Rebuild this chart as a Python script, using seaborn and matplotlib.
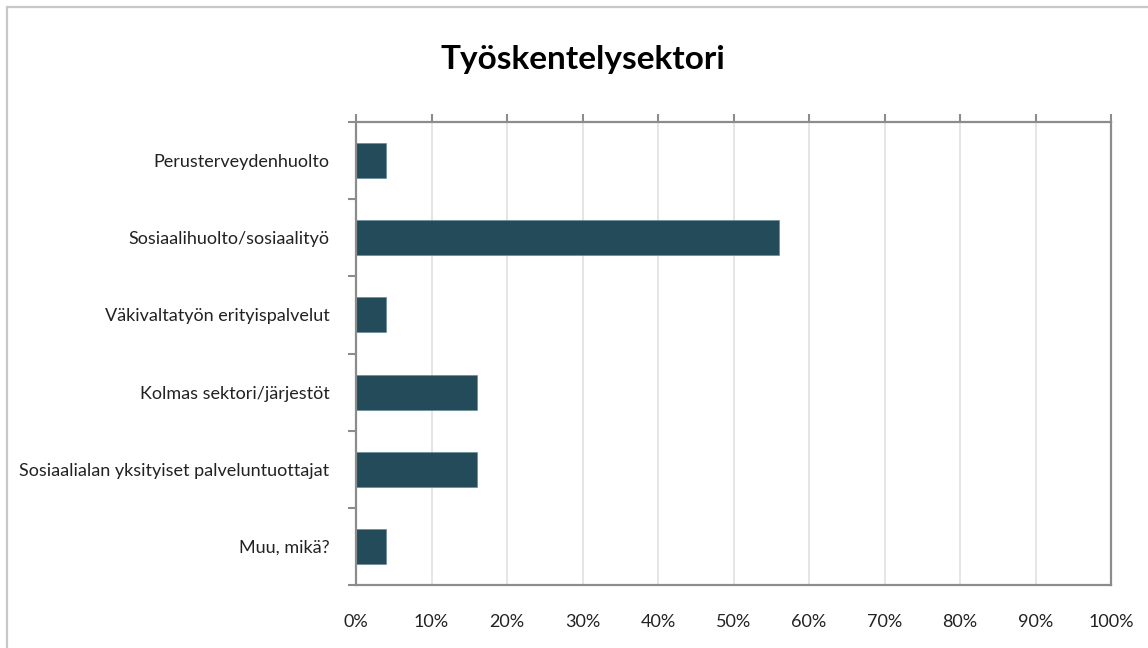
import matplotlib
matplotlib.use("Agg")
import matplotlib.pyplot as plt
import seaborn as sns
import pandas as pd
import numpy as np
from matplotlib.patches import Rectangle

categories = [
    "Perusterveydenhuolto",
    "Sosiaalihuolto/sosiaalityö",
    "Väkivaltatyön erityispalvelut",
    "Kolmas sektori/järjestöt",
    "Sosiaalialan yksityiset palveluntuottajat",
    "Muu, mikä?",
]
values = [4, 56, 4, 16, 16, 4]
x_ticks = [0, 10, 20, 30, 40, 50, 60, 70, 80, 90, 100]
x_labels = [f"{t}%" for t in x_ticks]
title = "Työskentelysektori"

sns.set_theme(style="white")
plt.rcParams["font.family"] = ["Lato", "DejaVu Sans"]

df = pd.DataFrame({"cat": categories, "val": values})

fig = plt.figure(figsize=(11.48, 6.48), dpi=100)
ax = fig.add_axes([356 / 1148, 1 - 585 / 648, (1111 - 356) / 1148, (585 - 122) / 648])

sns.barplot(data=df, y="cat", x="val", orient="h", color="#234b59",
            width=0.455, saturation=1, ax=ax, edgecolor="#5f8593", linewidth=0.4)

ax.set_xlim(0, 100)
ax.set_ylim(len(categories) - 0.5, -0.5)
ax.set_xlabel("")
ax.set_ylabel("")

ax.set_xticks(x_ticks)
ax.set_xticklabels(x_labels, fontsize=13, color="#222222")
ax.xaxis.grid(True, color="#e0e0e0", linewidth=1.2)
ax.set_axisbelow(True)
ax.tick_params(axis="x", top=True, bottom=False, labeltop=False, labelbottom=True,
               direction="out", length=6, width=1.5, color="#8c8c8c", pad=15)

ax.set_yticks(np.arange(-0.5, len(categories) + 0.5, 1))
ax.set_yticklabels([])
ax.set_yticks(np.arange(len(categories)), minor=True)
ax.set_yticklabels(categories, minor=True, fontsize=13, color="#222222")
ax.tick_params(axis="y", which="major", left=True, direction="out", length=6,
               width=1.5, color="#8c8c8c")
ax.tick_params(axis="y", which="minor", left=True, length=0, pad=19)

for s in ax.spines.values():
    s.set_visible(True)
    s.set_color("#8c8c8c")
    s.set_linewidth(1.6)

fig.text(583 / 1148, 1 - 60 / 648, title, ha="center", va="center",
         fontsize=24, fontweight="bold", color="#000000")

fig.patches.append(Rectangle((7 / 1148, -0.1), 1.2, 1 - 7 / 648 + 0.1,
                             transform=fig.transFigure, fill=False,
                             edgecolor="#c8c8c8", linewidth=1.6, figure=fig))

fig.savefig("out.png", dpi=100)
